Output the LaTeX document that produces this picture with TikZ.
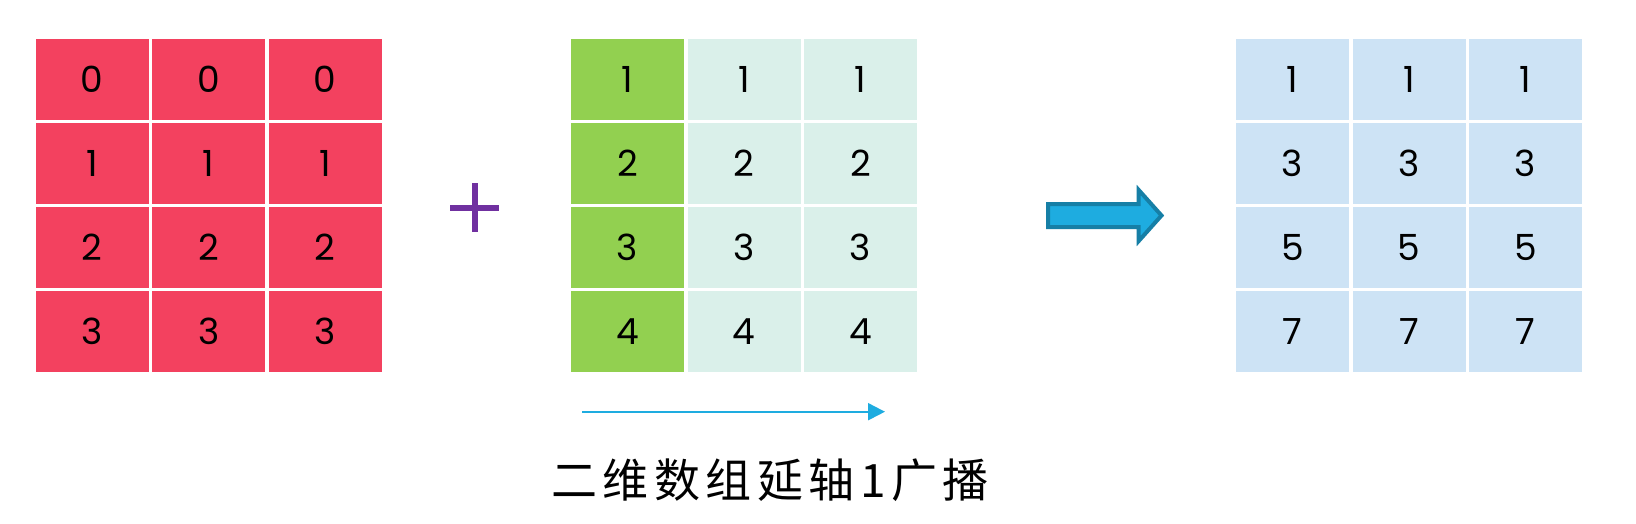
\documentclass[tikz,border=0pt]{standalone}
\usepackage{fontspec}
\setmainfont{Poppins}
\newfontfamily\cjkfont[LetterSpace=12]{Noto Sans CJK SC}
\usetikzlibrary{arrows.meta}
\definecolor{cred}{HTML}{F3415F}
\definecolor{cgreen}{HTML}{92D050}
\definecolor{cteal}{HTML}{DAF0EA}
\definecolor{cblue}{HTML}{CDE3F5}
\definecolor{cpurple}{HTML}{7030A0}
\definecolor{carrow}{HTML}{1EACE0}
\definecolor{carrowdark}{HTML}{167FA6}
\begin{document}
\begin{tikzpicture}[x=1pt,y=-1pt,
  cell/.style={minimum width=113pt, minimum height=81pt, inner sep=0pt,
    font=\fontsize{36}{36}\selectfont, text=black},
  thinarrow/.style={carrow, line width=2pt, -{Triangle[length=17pt,width=17pt]}},
  bigarrow/.style={fill=carrow, draw=carrowdark, line width=4pt, line join=miter},
  plusbar/.style={cpurple, line width=6pt}
]
\useasboundingbox[fill=white] (0,0) rectangle (1636,523);
% left grid
\foreach \r/\v in {0/0,1/1,2/2,3/3} {
  \foreach \c in {0,1,2} {
    \node[cell, fill=cred] (L\r\c) at ({92.2+116.5*\c},{79.5+84*\r}) {\v};
  }
}
% middle grid
\foreach \r/\v in {0/1,1/2,2/3,3/4} {
  \node[cell, fill=cgreen] (M\r0) at (627.5,{79.5+84*\r}) {\v};
  \foreach \c in {1,2} {
    \node[cell, fill=cteal] (M\r\c) at ({627.5+116.5*\c},{79.5+84*\r}) {\v};
  }
}
% right grid
\foreach \r/\v in {0/1,1/3,2/5,3/7} {
  \foreach \c in {0,1,2} {
    \node[cell, fill=cblue] (R\r\c) at ({1292.5+116.5*\c},{79.5+84*\r}) {\v};
  }
}
% plus sign
\coordinate (plus) at (474.6,207.7);
\draw[plusbar] ([xshift=-24.6pt]plus) -- ([xshift=24.6pt]plus);
\draw[plusbar] ([yshift=24.6pt]plus) -- ([yshift=-24.6pt]plus);
% big arrow
\draw[bigarrow] (1048,204) -- (1138.7,204) -- (1138.7,190) -- (1161.5,215.5)
  -- (1138.7,241) -- (1138.7,227) -- (1048,227) -- cycle;
% thin axis arrow
\coordinate (ax1) at (582,411.7);
\coordinate (ax2) at (885,411.7);
\draw[thinarrow] (ax1) -- (ax2);
% caption
\node[font=\cjkfont\fontsize{46}{46}\selectfont, inner sep=0pt] (cap) at (770,480) {二维数组延轴1广播};
\end{tikzpicture}
\end{document}
